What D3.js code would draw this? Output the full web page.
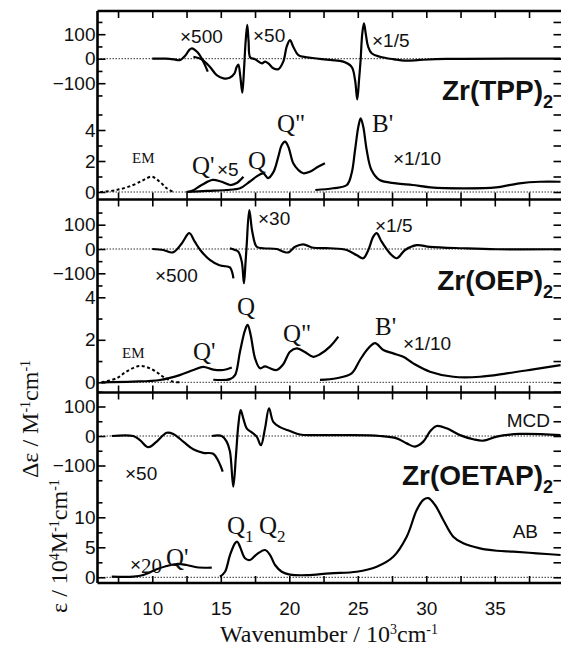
<!DOCTYPE html>
<html>
<head>
<meta charset="utf-8">
<title>Zr sandwich MCD / AB</title>
<script src="https://d3js.org/d3.v7.min.js"></script>
<style>
body { margin: 0; background: #fff; }
</style>
</head>
<body>
<script>
/* データ: [波数 (10^3 cm-1), 値] */

// Zr(TPP)2  MCD (Δε)
var tppMcdA = [[10.0,0],[11.0,0],[11.6,-3],[12.0,-6],[12.4,12],[12.7,36],[12.9,42],[13.15,34],[13.45,16],[13.75,-15],[14.05,-53]];
var tppMcdB = [[13.0,8],[13.6,-2],[14.2,-33],[14.7,-67],[15.2,-80],[15.65,-78],[16.0,-60],[16.15,-35],[16.28,-24],[16.42,-70],[16.57,-139],[16.7,-40],[16.8,60],[16.93,138],[17.03,70],[17.15,5],[17.5,-2],[18.0,-19],[18.23,-12],[18.47,-19],[18.83,-39],[19.2,-43],[19.56,-12],[19.81,49],[20.05,76],[20.29,49],[20.66,15],[21.27,6],[22.97,-5],[23.94,-12],[24.55,-33],[24.8,-87],[24.96,-166],[25.1,-80],[25.2,-10],[25.33,104],[25.45,144],[25.6,95],[25.75,50],[26.01,22],[26.62,8],[27.59,-2],[28.57,-8],[29.54,-5],[31.49,-1],[39.8,0]];
// Zr(TPP)2  AB (ε)
var tppEm = [[6.2,0],[7.4,0.13],[8.6,0.45],[9.35,0.77],[9.96,0.99],[10.55,0.66],[11.05,0.24],[11.55,0]];
var tppAbQ5 = [[12.5,0],[13.0,0.12],[13.6,0.45],[14.4,0.78],[15.0,0.68],[15.7,0.45],[16.2,0.6],[16.65,0.98]];
var tppAbQ = [[12.5,0],[14.0,0.07],[15.4,0.13],[16.4,0.24],[17.1,0.66],[17.6,0.99],[18.1,1.2],[18.45,0.9],[18.85,1.3],[19.2,2.28],[19.45,3.03],[19.69,3.25],[19.93,2.92],[20.29,1.85],[20.66,1.42],[21.02,1.21],[21.5,1.31],[22.1,1.63],[22.6,1.85]];
var tppAbB = [[21.9,0.13],[23.2,0.24],[24.2,0.45],[24.55,1.21],[24.8,2.71],[25.04,4.21],[25.21,4.75],[25.4,4.21],[25.65,2.71],[26.0,1.42],[26.6,0.77],[27.8,0.56],[29.0,0.45],[30.3,0.3],[32.7,0.24],[35.1,0.3],[36.8,0.56],[38.3,0.66],[39.8,0.66]];

// Zr(OEP)2  MCD
var oepMcdA = [[10.0,0],[10.8,-4],[11.5,-14],[12.15,23],[12.7,65],[13.1,30],[13.5,-4],[14.2,-45],[14.9,-67],[15.2,-70],[15.67,-76],[15.85,-100],[15.92,-121]];
var oepMcdB = [[15.67,3],[16.04,-4],[16.28,-11],[16.53,-52],[16.69,-141],[16.8,-60],[16.89,16],[17.08,160],[17.3,71],[17.62,9],[18.1,3],[19.08,0],[19.56,-11],[19.93,-14],[20.42,9],[21.02,19],[21.75,5],[22.97,3],[24.19,-4],[24.9,-25],[25.4,-38],[25.77,-4],[26.13,51],[26.38,65],[26.74,30],[27.35,-18],[27.84,-38],[28.45,-4],[29.3,16],[30.27,9],[32.7,3],[35.14,-1],[39.8,-1]];
// Zr(OEP)2  AB
var oepEm = [[6.3,0],[7.4,0.19],[8.1,0.5],[9.1,0.77],[10.07,0.58],[10.8,0.26],[11.5,0.03],[12.0,0]];
var oepAbQp = [[6.3,0],[8.6,0.03],[10.56,0.11],[12.0,0.34],[13.0,0.58],[13.72,0.73],[14.45,0.6],[15.18,0.58],[15.8,0.7]];
var oepAbQ = [[14.45,0.12],[15.67,0.15],[16.04,0.34],[16.4,1.44],[16.77,2.46],[16.96,2.7],[17.18,2.23],[17.5,1.13],[17.86,0.66],[18.23,0.75],[18.59,0.66],[19.08,0.58],[19.56,0.85],[20.05,1.44],[20.54,1.6],[21.1,1.44],[21.75,1.2],[22.24,1.32],[22.97,1.68],[23.58,2.15]];
var oepAbB = [[22.24,0.11],[23.46,0.19],[24.55,0.42],[25.16,1.05],[25.77,1.6],[26.26,1.84],[26.86,1.52],[27.59,1.36],[28.32,1.2],[29.05,0.89],[30.27,0.5],[31.97,0.26],[33.92,0.26],[35.87,0.42],[37.81,0.61],[39.8,0.81]];

// Zr(OETAP)2  MCD
var oetapMcdA = [[7.04,0],[8.61,0],[9.1,-14],[9.71,-38],[10.32,-19],[11.05,11],[11.53,7],[12.26,-19],[12.99,-45],[13.72,-57],[14.45,-60],[14.82,-85],[15.14,-121]];
var oetapMcdB = [[14.34,0],[15.07,0],[15.43,-19],[15.67,-53],[15.91,-172],[16.11,-64],[16.28,37],[16.45,88],[16.64,60],[16.89,26],[17.26,12],[17.62,-2],[17.93,-31],[18.23,26],[18.52,94],[18.83,48],[19.32,30],[20.05,17],[20.78,5],[21.75,3],[24.19,3],[26.62,0],[27.84,-8],[28.57,-25],[29.17,-36],[29.78,-19],[30.27,15],[30.76,34],[31.49,26],[32.46,3],[33.43,-11],[34.16,-16],[35.14,-2],[36.84,7],[39.8,3]];
// Zr(OETAP)2  AB
var oetapAbA = [[7.04,0.1],[8.61,0.1],[9.34,0.38],[10.32,1.33],[11.05,1.88],[11.78,2.22],[12.51,2.05],[13.24,1.67],[14.34,1.6]];
var oetapAbB = [[14.94,0.1],[15.31,0.93],[15.67,3.7],[16.04,5.67],[16.2,5.93],[16.4,5.1],[16.77,3.17],[17.13,2.88],[17.62,3.83],[18.23,4.55],[18.6,3.7],[18.96,2.05],[19.45,0.93],[20.05,0.45],[21.3,0.35],[22.97,0.67],[24.92,0.93],[26.38,1.77],[27.59,3.43],[28.57,6.77],[29.3,11.2],[29.78,12.9],[30.15,13.2],[30.64,12.05],[31.24,9.55],[31.97,6.77],[32.7,5.67],[33.92,4.83],[35.14,4.43],[36.35,4.27],[38.06,4],[39.8,3.72]];

// 目盛り
var xMajor = [10, 15, 20, 25, 30, 35];
var xMinor = [7.5, 12.5, 17.5, 22.5, 27.5, 32.5, 37.5];
var mcdMajor = [-100, 0, 100];
var mcdMinor = [-150, -50, 50, 150];

var svgWidth = 561, svgHeight = 651;
var left = 97.5, right = 561.5;
var sans = '"Liberation Sans", Arial, sans-serif';
var serif = '"Liberation Serif", "Times New Roman", serif';

var x = d3.scaleLinear().domain([6, 39.87]).range([left, right]);

var panels = [
    { top: 11, bottom: 199.5,
      mcd: d3.scaleLinear().domain([0, 100]).range([58.7, 34.2]),
      ab: d3.scaleLinear().domain([0, 2]).range([192, 161]),
      abMajor: [0, 2, 4], abMinor: [1, 3, 5],
      mcdLines: [tppMcdA, tppMcdB], abLines: [tppAbQ5, tppAbQ, tppAbB], em: tppEm },
    { top: 199.5, bottom: 392.5,
      mcd: d3.scaleLinear().domain([0, 100]).range([249, 224.7]),
      ab: d3.scaleLinear().domain([0, 2]).range([382.3, 339.8]),
      abMajor: [0, 2, 4], abMinor: [1, 3],
      mcdLines: [oepMcdA, oepMcdB], abLines: [oepAbQp, oepAbQ, oepAbB], em: oepEm },
    { top: 392.5, bottom: 583,
      mcd: d3.scaleLinear().domain([0, 100]).range([436, 406.5]),
      ab: d3.scaleLinear().domain([0, 5]).range([577.3, 547.3]),
      abMajor: [0, 5, 10], abMinor: [2.5, 7.5, 12.5],
      mcdLines: [oetapMcdA, oetapMcdB], abLines: [oetapAbA, oetapAbB], em: null }
];

var svg = d3.select('body').append('svg')
    .attr('width', svgWidth)
    .attr('height', svgHeight)
    .style('display', 'block')
    .style('background', '#fff');

function fmt(d) { return d < 0 ? '\u2212' + Math.abs(d) : String(d); }

function styleAxis(g, lw) {
    g.select('.domain').remove();
    g.selectAll('line').attr('stroke', '#000').attr('stroke-width', lw);
    g.selectAll('text').attr('font-family', sans).attr('font-size', 19).attr('fill', '#111');
}

function yAxis(scale, major, minor) {
    svg.append('g').attr('transform', 'translate(' + left + ',0)')
        .call(d3.axisLeft(scale).tickValues(major).tickSize(-8).tickPadding(2).tickFormat(fmt))
        .call(styleAxis, 1.6);
    svg.append('g').attr('transform', 'translate(' + left + ',0)')
        .call(d3.axisLeft(scale).tickValues(minor).tickSize(-5).tickFormat(''))
        .call(styleAxis, 1.6);
    svg.append('g').attr('transform', 'translate(' + right + ',0)')
        .call(d3.axisRight(scale).tickValues(major.concat(minor)).tickSize(-8).tickFormat(''))
        .call(styleAxis, 1.6);
}

var line = function (scale) {
    return d3.line()
        .x(function (d) { return x(d[0]); })
        .y(function (d) { return scale(d[1]); })
        .curve(d3.curveCatmullRom.alpha(0.5));
};

panels.forEach(function (p, i) {
    // ゼロ線 (点線)
    [p.mcd, p.ab].forEach(function (s) {
        svg.append('line')
            .attr('x1', left).attr('x2', right)
            .attr('y1', s(0)).attr('y2', s(0))
            .attr('stroke', '#333').attr('stroke-width', 1)
            .attr('stroke-dasharray', '1.5,1.5');
    });

    yAxis(p.mcd, mcdMajor, mcdMinor);
    yAxis(p.ab, p.abMajor, p.abMinor);

    // x 目盛り (内向き)
    var xt = xMajor.concat(xMinor);
    svg.append('g').attr('transform', 'translate(0,' + p.top + ')')
        .call(d3.axisBottom(x).tickValues(xt).tickSize(7).tickFormat(''))
        .call(styleAxis, 1.6);
    if (i < 2) {
        svg.append('g').attr('transform', 'translate(0,' + p.bottom + ')')
            .call(d3.axisTop(x).tickValues(xt).tickSize(7).tickFormat(''))
            .call(styleAxis, 1.6);
    } else {
        svg.append('g').attr('transform', 'translate(0,' + p.bottom + ')')
            .call(d3.axisBottom(x).tickValues(xMajor).tickSize(-7).tickPadding(19).tickFormat(fmt))
            .call(styleAxis, 1.6);
        svg.append('g').attr('transform', 'translate(0,' + p.bottom + ')')
            .call(d3.axisTop(x).tickValues(xMinor).tickSize(7).tickFormat(''))
            .call(styleAxis, 1.6);
    }

    // スペクトル
    p.mcdLines.forEach(function (d) {
        svg.append('path').datum(d).attr('d', line(p.mcd))
            .attr('fill', 'none').attr('stroke', '#000').attr('stroke-width', 2.2)
            .attr('stroke-linejoin', 'round');
    });
    p.abLines.forEach(function (d) {
        svg.append('path').datum(d).attr('d', line(p.ab))
            .attr('fill', 'none').attr('stroke', '#000').attr('stroke-width', 2.2)
            .attr('stroke-linejoin', 'round');
    });
    if (p.em) {
        svg.append('path').datum(p.em).attr('d', line(p.ab))
            .attr('fill', 'none').attr('stroke', '#000').attr('stroke-width', 2)
            .attr('stroke-dasharray', '3,2.5');
    }
});

// 枠線
svg.append('line').attr('x1', left).attr('x2', left).attr('y1', 11).attr('y2', 583)
    .attr('stroke', '#000').attr('stroke-width', 2.6);
[11, 199.5, 392.5, 583].forEach(function (y) {
    svg.append('line').attr('x1', left).attr('x2', right).attr('y1', y).attr('y2', y)
        .attr('stroke', '#000').attr('stroke-width', 2.6);
});

/* 注釈 */
var notes = [
    // [text, x, y, font, size, anchor]
    ['\u00d7500', 180, 43, sans, 19], ['\u00d750', 253, 42, sans, 19], ['\u00d71/5', 372, 47, sans, 19],
    ['EM', 132, 163, serif, 15], ["Q'", 192, 174, serif, 25], ['\u00d75', 217, 176, sans, 19],
    ['Q', 248, 169, serif, 25], ['Q"', 277, 132, serif, 25], ["B'", 372, 132, serif, 25],
    ['\u00d71/10', 393, 165, sans, 19],
    ['\u00d7500', 155, 282, sans, 19], ['\u00d730', 258, 225, sans, 19], ['\u00d71/5', 375, 232, sans, 19],
    ['EM', 122, 358, serif, 15], ["Q'", 193, 360, serif, 25], ['Q', 237, 315, serif, 25],
    ['Q"', 283, 342, serif, 25], ["B'", 375, 335, serif, 25], ['\u00d71/10', 403, 350, sans, 19],
    ['MCD', 550, 427, sans, 19, 'end'], ['\u00d750', 125, 480, sans, 19], ['AB', 538, 538, sans, 19, 'end'],
    ['\u00d7', 130, 571, sans, 19], ['20', 141, 573, serif, 21], ["Q'", 166, 566, serif, 25]
];
notes.forEach(function (n) {
    svg.append('text').text(n[0])
        .attr('x', n[1]).attr('y', n[2])
        .attr('font-family', n[3]).attr('font-size', n[4])
        .attr('text-anchor', n[5] || 'start')
        .attr('fill', '#111');
});

// 下付き文字付きラベル
function subLabel(main, sub, xPos, y, size, subSize, family, weight, anchor) {
    var t = svg.append('text').attr('x', xPos).attr('y', y)
        .attr('font-family', family).attr('font-size', size)
        .attr('font-weight', weight).attr('text-anchor', anchor).attr('fill', '#111');
    t.append('tspan').text(main);
    t.append('tspan').text(sub).attr('font-size', subSize).attr('dy', size * 0.3);
}
subLabel('Zr(TPP)', '2', 553, 100, 28, 18, sans, 'bold', 'end');
subLabel('Zr(OEP)', '2', 553, 290, 28, 18, sans, 'bold', 'end');
subLabel('Zr(OETAP)', '2', 553, 485, 28, 18, sans, 'bold', 'end');
subLabel('Q', '1', 227, 534, 25, 17, serif, 'normal', 'start');
subLabel('Q', '2', 259, 534, 25, 17, serif, 'normal', 'start');

// 軸タイトル
function supText(parts, tx, ty, rot) {
    var t = svg.append('text')
        .attr('transform', 'translate(' + tx + ',' + ty + ') rotate(' + rot + ')')
        .attr('text-anchor', 'middle')
        .attr('font-family', serif).attr('font-size', 24).attr('fill', '#111');
    parts.forEach(function (p) {
        var s = t.append('tspan').text(p[0]);
        if (p[1]) s.attr('font-size', 14).attr('baseline-shift', '55%');
    });
}
supText([['Wavenumber / 10'], ['3', 1], ['cm'], ['-1', 1]], 329, 642, 0);
supText([['\u0394\u03b5 / M'], ['-1', 1], ['cm'], ['-1', 1]], 38, 419, -90);
supText([['\u03b5 / 10'], ['4', 1], ['M'], ['-1', 1], ['cm'], ['-1', 1]], 67, 546, -90);
</script>
</body>
</html>
